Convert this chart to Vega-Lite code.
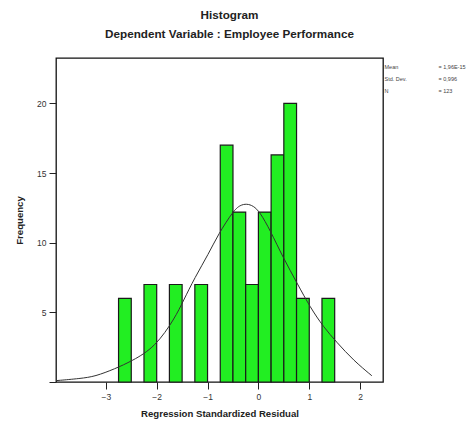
{
  "$schema": "https://vega.github.io/schema/vega-lite/v6.json",
  "autosize": "none",
  "width": 327,
  "height": 324,
  "padding": {"left": 56, "top": 58, "right": 93, "bottom": 46},
  "title": {
    "text": ["Histogram", "Dependent Variable : Employee Performance"],
    "fontSize": 11.7,
    "fontWeight": "bold",
    "font": "Liberation Sans",
    "color": "#222",
    "lineHeight": 19,
    "offset": 17,
    "dx": 10,
    "anchor": "middle"
  },
  "config": {
    "font": "Liberation Sans",
    "view": {"stroke": "#111", "strokeWidth": 1.3},
    "axis": {"grid": false, "domain": false, "tickColor": "#222", "tickSize": 7, "labelFontSize": 8.5, "labelColor": "#333", "titleFontSize": 9.6, "titleFontWeight": "bold", "titleColor": "#222"}
  },
  "layer": [
    {
      "data": {"values": [
        {"start": -2.75, "end": -2.5, "count": 6},
        {"start": -2.25, "end": -2.0, "count": 7},
        {"start": -1.75, "end": -1.5, "count": 7},
        {"start": -1.25, "end": -1.0, "count": 7},
        {"start": -0.75, "end": -0.5, "count": 17},
        {"start": -0.5, "end": -0.25, "count": 12.2},
        {"start": -0.25, "end": 0.0, "count": 7},
        {"start": 0.0, "end": 0.25, "count": 12.2},
        {"start": 0.25, "end": 0.5, "count": 16.3},
        {"start": 0.5, "end": 0.75, "count": 20},
        {"start": 0.75, "end": 1.0, "count": 6},
        {"start": 1.25, "end": 1.5, "count": 6}
      ]},
      "mark": {"type": "rect", "fill": "#22ee22", "stroke": "#1a1a1a", "strokeWidth": 1.2},
      "encoding": {
        "x": {"field": "start", "type": "quantitative", "scale": {"domain": [-3.98, 2.45], "nice": false, "zero": false},
              "axis": {"values": [-3, -2, -1, 0, 1, 2], "title": "Regression Standardized Residual", "labelPadding": 3, "titlePadding": 8}},
        "x2": {"field": "end"},
        "y": {"field": "count", "type": "quantitative", "scale": {"domain": [0, 23.26], "nice": false},
              "axis": {"values": [0, 5, 10, 15, 20], "labelExpr": "datum.value == 0 ? '' : datum.label", "title": "Frequency", "labelPadding": 3, "titlePadding": 12}},
        "y2": {"datum": 0}
      }
    },
    {
      "data": {"values": [
        {"x": -3.97, "y": 0.1},
        {"x": -3.5, "y": 0.25},
        {"x": -3.21, "y": 0.4},
        {"x": -2.82, "y": 0.95},
        {"x": -2.49, "y": 1.5},
        {"x": -2.03, "y": 2.5},
        {"x": -1.64, "y": 4.6},
        {"x": -1.48, "y": 5.8},
        {"x": -1.25, "y": 7.5},
        {"x": -0.98, "y": 9.2},
        {"x": -0.79, "y": 10.6},
        {"x": -0.49, "y": 12.3},
        {"x": -0.36, "y": 12.7},
        {"x": -0.23, "y": 12.8},
        {"x": -0.1, "y": 12.65},
        {"x": 0.03, "y": 12.2},
        {"x": 0.23, "y": 10.9},
        {"x": 0.49, "y": 8.9},
        {"x": 0.76, "y": 7.1},
        {"x": 1.02, "y": 5.35},
        {"x": 1.28, "y": 3.95},
        {"x": 1.54, "y": 2.85},
        {"x": 1.87, "y": 1.55},
        {"x": 2.23, "y": 0.45}
      ]},
      "mark": {"type": "line", "color": "#333", "strokeWidth": 1, "interpolate": "basis"},
      "encoding": {
        "x": {"field": "x", "type": "quantitative"},
        "y": {"field": "y", "type": "quantitative"}
      }
    },
    {
      "data": {"values": [
        {"entry": "Mean"}, {"entry": "Std. Dev."}, {"entry": "N"},
        {"entry": "= 1,96E-15"}, {"entry": "= 0,996"}, {"entry": "= 123"}
      ]},
      "mark": {"type": "point", "opacity": 0},
      "encoding": {
        "color": {"field": "entry", "type": "nominal",
          "scale": {"domain": ["Mean", "Std. Dev.", "N", "= 1,96E-15", "= 0,996", "= 123"], "range": ["#333", "#333", "#333", "#333", "#333", "#333"]},
          "legend": {"orient": "none", "legendX": 323, "legendY": 6, "title": null, "columns": 2, "columnPadding": 26, "rowPadding": 5,
                     "symbolSize": 0, "symbolOpacity": 0, "symbolStrokeWidth": 0, "labelOffset": 0, "labelFontSize": 5.5, "labelColor": "#444", "labelLimit": 200}
        }
      }
    }
  ]
}
